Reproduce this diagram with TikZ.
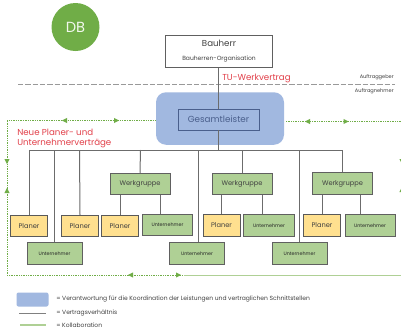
\documentclass[tikz,border=0pt]{standalone}
\usepackage{fontspec}
\setmainfont{Poppins}
\definecolor{gbox}{HTML}{AFD095}
\definecolor{gline}{HTML}{70AD47}
\definecolor{ybox}{HTML}{FFE08F}
\definecolor{bluef}{HTML}{A1B8E0}
\definecolor{redt}{HTML}{E2404A}
\definecolor{txt}{HTML}{404040}
\definecolor{gltxt}{HTML}{4A5F8C}
\tikzset{
  x=0.75pt,y=-0.75pt,
  boxbase/.style={draw=#1,line width=0.75pt,inner sep=0pt,text=txt,align=center},
  wg/.style={boxbase=gray!75!black,fill=gbox,minimum width=60*0.75pt,minimum height=21.5*0.75pt,font=\fontsize{5}{6}\selectfont},
  un/.style={boxbase=gray!75!black,fill=gbox,minimum height=21.5*0.75pt,text=black!85,font=\fontsize{3.6}{4}\selectfont},
  pl/.style={boxbase=gray!70!black,fill=ybox,minimum width=37*0.75pt,minimum height=21.5*0.75pt,font=\fontsize{5}{6}\selectfont},
  contract/.style={draw=gray!85!black,line width=0.75pt},
  collab/.style={draw=gline,line width=0.7pt,dash pattern=on 0.75pt off 0.55pt},
  collabfaint/.style={draw=gbox,line width=0.7pt},
  note/.style={text=txt,font=\fontsize{4.5}{5}\selectfont,anchor=west,inner sep=0pt},
  redlbl/.style={text=redt,font=\fontsize{6.5}{7.5}\selectfont,align=left,inner sep=0pt,anchor=west},
}
\newcommand{\ah}[3]{\fill[gline,rotate around={#3:(#1,#2)}] (#1+3,#2) -- (#1-2,#2-2.6) -- (#1-2,#2+2.6) -- cycle;}
\begin{document}
\begin{tikzpicture}
\useasboundingbox (0,0) rectangle (401,333);
\fill[white] (0,0) rectangle (401,333);
% DB
\node[circle,fill=gline,minimum size=48*0.75pt,inner sep=0pt,text=white!90!gline,font=\fontsize{11}{13}\selectfont] (db) at (75.5,27) {DB};
% separator
\coordinate (sepL) at (18,84.5); \coordinate (sepR) at (395,84.5);
\draw[gray!80,line width=0.7pt,dash pattern=on 4pt off 1.5pt] (sepL) -- (sepR);
\node[note,anchor=east,font=\fontsize{3.8}{5}\selectfont] (ag) at (394,77.5) {Auftraggeber};
\node[note,anchor=east,font=\fontsize{3.8}{5}\selectfont] (an) at (394,91.5) {Auftragnehmer};
% blue
\node[fill=bluef,rounded corners=7.5pt,minimum width=128*0.75pt,minimum height=52.5*0.75pt,inner sep=0pt] (blue) at (220,118.5) {};
% tree
\coordinate (t1) at (29,150);\coordinate (t2) at (54.5,150);\coordinate (t3) at (79.5,150);
\coordinate (t4) at (140.5,150);\coordinate (t5) at (198.5,150);\coordinate (t6) at (242,150);
\coordinate (t7) at (299.5,150);\coordinate (t8) at (342.5,150);\coordinate (tc) at (218.5,150);
% boxes
\node[boxbase=gray!75!black,fill=white,minimum width=107*0.75pt,minimum height=32*0.75pt] (bh) at (219,51.5) {};
\node[text=txt,font=\fontsize{6.5}{8}\selectfont,inner sep=0pt] (bh1) at (219,43.5) {Bauherr};
\node[text=txt,font=\fontsize{4.5}{5}\selectfont,inner sep=0pt] (bh2) at (219,59.5) {Bauherren-Organisation};
\node[draw=gltxt,line width=0.7pt,inner sep=0pt,minimum width=81*0.75pt,minimum height=21*0.75pt,text=gltxt,font=\fontsize{6.6}{8}\selectfont] (gl) at (218.5,119.5) {Gesamtleister};
\node[wg] (w1) at (140,184) {Werkgruppe};
\node[wg] (w2) at (242,184) {Werkgruppe};
\node[wg] (w3) at (342.5,183.5) {Werkgruppe};
\node[pl] (p1) at (29,226) {Planer};
\node[pl] (p2) at (80,226) {Planer};
\node[pl] (p3) at (120,226) {Planer};
\node[pl] (p4) at (221.5,225.5) {Planer};
\node[pl] (p5) at (322,225.5) {Planer};
\node[un,minimum width=50*0.75pt] (u4) at (167.5,225) {Unternehmer};
\node[un,minimum width=51*0.75pt] (u5) at (269,225.5) {Unternehmer};
\node[un,minimum width=50*0.75pt] (u6) at (370,225.5) {Unternehmer};
\node[un,minimum width=55*0.75pt] (u1) at (54.5,253.5) {Unternehmer};
\node[un,minimum width=55*0.75pt] (u2) at (197,253.5) {Unternehmer};
\node[un,minimum width=55*0.75pt] (u3) at (299.5,253.5) {Unternehmer};
% contracts
\draw[contract] (tc |- bh.south) -- (tc |- gl.north);
\draw[contract] (tc |- gl.south) -- (tc);
\draw[contract] (t1) -- (t8);
\draw[contract] (t1) -- (p1.north);
\draw[contract] (t2) -- (u1.north);
\draw[contract] (t3) -- (p2.north);
\draw[contract] (t4) -- (w1.north);
\draw[contract] (t5) -- (t5 |- u2.north);
\draw[contract] (t6) -- (w2.north);
\draw[contract] (t7) -- (u3.north);
\draw[contract] (t8) -- (w3.north);
\draw[contract] (p3.north |- w1.south) -- (p3.north);
\coordinate (k1) at (160,200);\coordinate (k2) at (262,200);\coordinate (k3) at (360,200);
\draw[contract] (k1 |- w1.south) -- (k1 |- u4.north);
\draw[contract] (p4.north |- w2.south) -- (p4.north);
\draw[contract] (k2 |- w2.south) -- (k2 |- u5.north);
\draw[contract] (p5.north |- w3.south) -- (p5.north);
\draw[contract] (k3 |- w3.south) -- (k3 |- u6.north);
% collaboration
\coordinate (cTL) at (7,120.5);\coordinate (cBL) at (7,275);\coordinate (cBM) at (184,275);\coordinate (cBR) at (401,275);
\coordinate (cRa) at (286,121.5);\coordinate (cRb) at (401,121.5);
\draw[collab] (blue.west |- cTL) -- (cTL) -- (cBL) -- (cBM);
\draw[collabfaint] (cBM) -- (cBR);
\draw[collab] (cRa) -- (cRb);
\ah{65}{120.5}{180}
\ah{116}{120.5}{0}
\ah{7}{161}{-90}
\ah{7}{191}{90}
\ah{131}{275}{180}
\ah{178}{275}{0}
\ah{308}{121.5}{180}
\ah{345.5}{121.5}{0}
\ah{402}{161}{-90}
\ah{402}{190}{90}
% red labels
\node[redlbl] (neu) at (17,138) {Neue Planer- und\\Unternehmerverträge};
\node[redlbl] (tu) at (222,78) {TU-Werkvertrag};
% legend
\node[fill=bluef,rounded corners=1.5pt,minimum width=32*0.75pt,minimum height=14*0.75pt,inner sep=0pt] (lg) at (32.5,299.5) {};
\node[note] (l1) at (56,299.5) {= Verantwortung für die Koordination der Leistungen und vertraglichen Schnittstellen};
\coordinate (a1) at (19,313.5);\coordinate (a2) at (46,313.5);
\draw[draw=gray,line width=1pt] (a1) -- (a2);
\node[note] (l2) at (56,313) {= Vertragsverhältnis};
\coordinate (b1) at (20,325);\coordinate (b2) at (46,325);
\draw[gbox,line width=0.9pt] (b1) -- (b2);
\node[note] (l3) at (56,325) {= Kollaboration};
\end{tikzpicture}
\end{document}
